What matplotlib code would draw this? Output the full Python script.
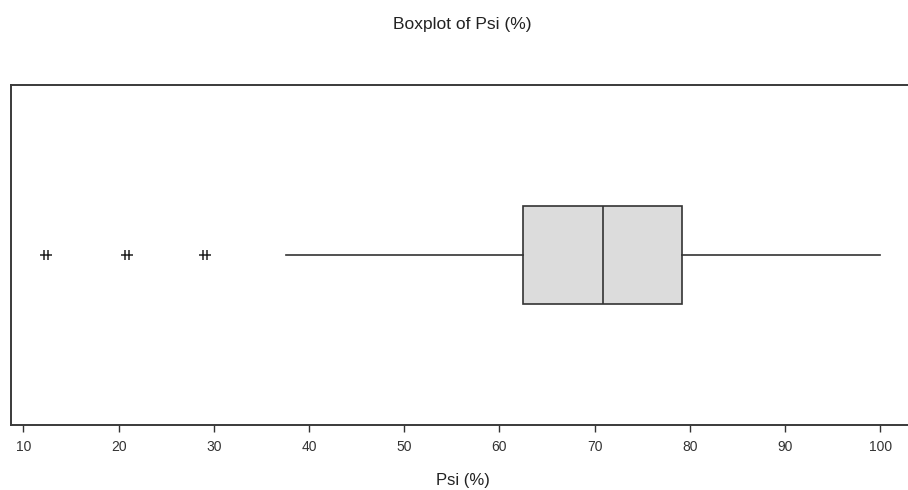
import matplotlib.pyplot as plt
from matplotlib.path import Path
from matplotlib import font_manager

fams = {f.name for f in font_manager.fontManager.ttflist}
tick_font = 'Liberation Sans Narrow' if 'Liberation Sans Narrow' in fams else 'Liberation Sans'
plt.rcParams['font.family'] = ['Liberation Sans', 'DejaVu Sans']

# summary (Psi %)
q1 = 62.45
median = 70.9
q3 = 79.15
whisker_low = 37.6
whisker_high = 100.0
outliers = [12.4, 20.9, 29.1]
tick_values = [10, 20, 30, 40, 50, 60, 70, 80, 90, 100]

stats = [{
    'q1': q1, 'med': median, 'q3': q3,
    'whislo': whisker_low, 'whishi': whisker_high,
    'fliers': outliers, 'label': '',
}]

# minitab-like small asterisk: a dash crossed by two short strokes
star = Path([(-1, 0), (1, 0), (-0.3, -0.75), (-0.3, 0.75), (0.3, -0.75), (0.3, 0.75)],
            [Path.MOVETO, Path.LINETO, Path.MOVETO, Path.LINETO, Path.MOVETO, Path.LINETO])

fig = plt.figure(figsize=(9.08, 4.90), dpi=100)
ax = fig.add_axes([11 / 908, 65 / 490, 915 / 908, 340 / 490])

ax.bxp(stats, positions=[1], widths=0.29, vert=False, patch_artist=True,
       showcaps=False,
       boxprops=dict(facecolor='#dcdcdc', edgecolor='#333333', linewidth=1.2),
       medianprops=dict(color='#333333', linewidth=1.2),
       whiskerprops=dict(color='#333333', linewidth=1.2),
       flierprops=dict(marker=star, markersize=9, markeredgecolor='#222222',
                       markerfacecolor='none', markeredgewidth=1.1, linestyle='none'))

ax.set_ylim(0.5, 1.5)
ax.set_xlim(8.7, 8.7 + 915 / 9.52)
ax.set_yticks([])
ax.set_xticks(tick_values)
ax.tick_params(axis='x', length=5, width=1, colors='#333333', labelsize=10, pad=6)
for lab in ax.get_xticklabels():
    lab.set_family([tick_font, 'DejaVu Sans'])
for s in ax.spines.values():
    s.set_linewidth(1.4)
    s.set_color('#3a3a3a')
# the frame runs off the right edge of the picture in the reference
ax.spines['right'].set_visible(False)

fig.text(463 / 908, 1 - 480 / 490, 'Psi (%)', ha='center', va='center',
         fontsize=12, color='#222222')
fig.text(462 / 908, 1 - 25 / 490, 'Boxplot of Psi (%)', ha='center', va='center',
         fontsize=12.5, color='#222222')

fig.savefig('out.png', dpi=100)
